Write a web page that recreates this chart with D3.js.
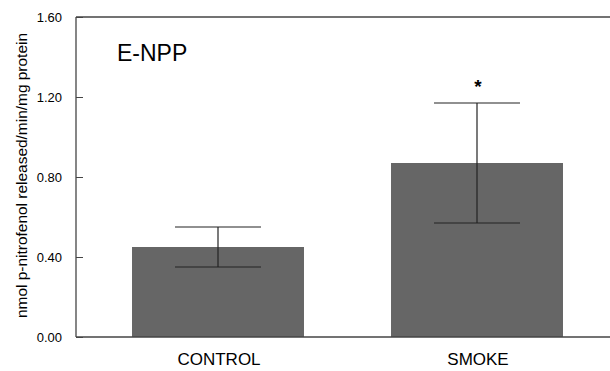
<!DOCTYPE html>
<html>
<head>
<meta charset="utf-8">
<script src="https://cdn.jsdelivr.net/npm/d3@7"></script>
<style>
  body { margin: 0; background: #fff; }
  text { font-family: "Liberation Sans", Arial, sans-serif; fill: #000; }
</style>
</head>
<body>
<svg id="chart" width="610" height="371"></svg>
<script>
// data
var groups = ["CONTROL", "SMOKE"];
var means = [0.45, 0.87];
var sems = [0.10, 0.30];
var signif = ["", "*"];
var yTicks = [0, 0.4, 0.8, 1.2, 1.6];

var svg = d3.select("#chart");
var plotLeft = 76, plotTop = 17, plotBottom = 337, plotRight = 610;

var x = d3.scaleBand().domain(groups).range([88.5, 606.5])
    .paddingInner(0.336).paddingOuter(0.168);
var y = d3.scaleLinear().domain([0, 1.6]).range([plotBottom, plotTop]);

// bars
svg.selectAll("rect.bar").data(groups).enter().append("rect")
    .attr("class", "bar")
    .attr("x", function(d){ return x(d); })
    .attr("y", function(d, i){ return y(means[i]); })
    .attr("width", x.bandwidth())
    .attr("height", function(d, i){ return y(0) - y(means[i]); })
    .attr("fill", "#666666");

// error bars
var cap = x.bandwidth() / 4;
groups.forEach(function(g, i){
  var cx = x(g) + x.bandwidth() / 2;
  var lo = y(means[i] - sems[i]), hi = y(means[i] + sems[i]);
  var eb = svg.append("g").attr("stroke", "#222").attr("stroke-width", 1.2);
  eb.append("line").attr("x1", cx).attr("x2", cx).attr("y1", lo).attr("y2", hi);
  eb.append("line").attr("x1", cx - cap).attr("x2", cx + cap).attr("y1", hi).attr("y2", hi);
  eb.append("line").attr("x1", cx - cap).attr("x2", cx + cap).attr("y1", lo).attr("y2", lo);
  if (signif[i]) {
    svg.append("text").attr("x", cx + 1).attr("y", hi - 10)
      .attr("text-anchor", "middle").style("font-size", "19px").style("font-weight", "bold")
      .text(signif[i]);
  }
});

// frame
var frame = svg.append("g").attr("stroke", "#444").attr("stroke-width", 1.3);
frame.append("line").attr("x1", plotLeft).attr("x2", plotLeft).attr("y1", plotTop).attr("y2", plotBottom);
frame.append("line").attr("x1", plotLeft).attr("x2", plotRight).attr("y1", plotTop).attr("y2", plotTop);
frame.append("line").attr("x1", plotLeft).attr("x2", plotRight).attr("y1", plotBottom).attr("y2", plotBottom);

// y axis, ticks pointing inward
var yAxis = d3.axisRight(y).tickValues(yTicks).tickSize(7).tickFormat("");
var ya = svg.append("g").attr("transform", "translate(" + plotLeft + ",0)").call(yAxis);
ya.select(".domain").remove();
ya.selectAll("line").attr("stroke", "#444");

svg.selectAll("text.ylab").data(yTicks).enter().append("text")
    .attr("class", "ylab")
    .attr("x", 62).attr("y", function(d){ return y(d); })
    .attr("dy", "0.35em")
    .attr("text-anchor", "end")
    .style("font-size", "13px")
    .text(d3.format(".2f"));

// category labels
svg.selectAll("text.xlab").data(groups).enter().append("text")
    .attr("class", "xlab")
    .attr("x", function(d){ return x(d) + x.bandwidth() / 2 + 1; })
    .attr("y", 365)
    .attr("text-anchor", "middle")
    .style("font-size", "17px")
    .text(function(d){ return d; });

// axis title
svg.append("text")
    .attr("transform", "translate(27," + ((33 + 318) / 2) + ") rotate(-90)")
    .attr("text-anchor", "middle")
    .attr("textLength", 285).attr("lengthAdjust", "spacingAndGlyphs")
    .style("font-size", "14px")
    .text("nmol p-nitrofenol released/min/mg protein");

// panel label
svg.append("text").attr("x", 117).attr("y", 61)
    .style("font-size", "23px")
    .text("E-NPP");
</script>
</body>
</html>
